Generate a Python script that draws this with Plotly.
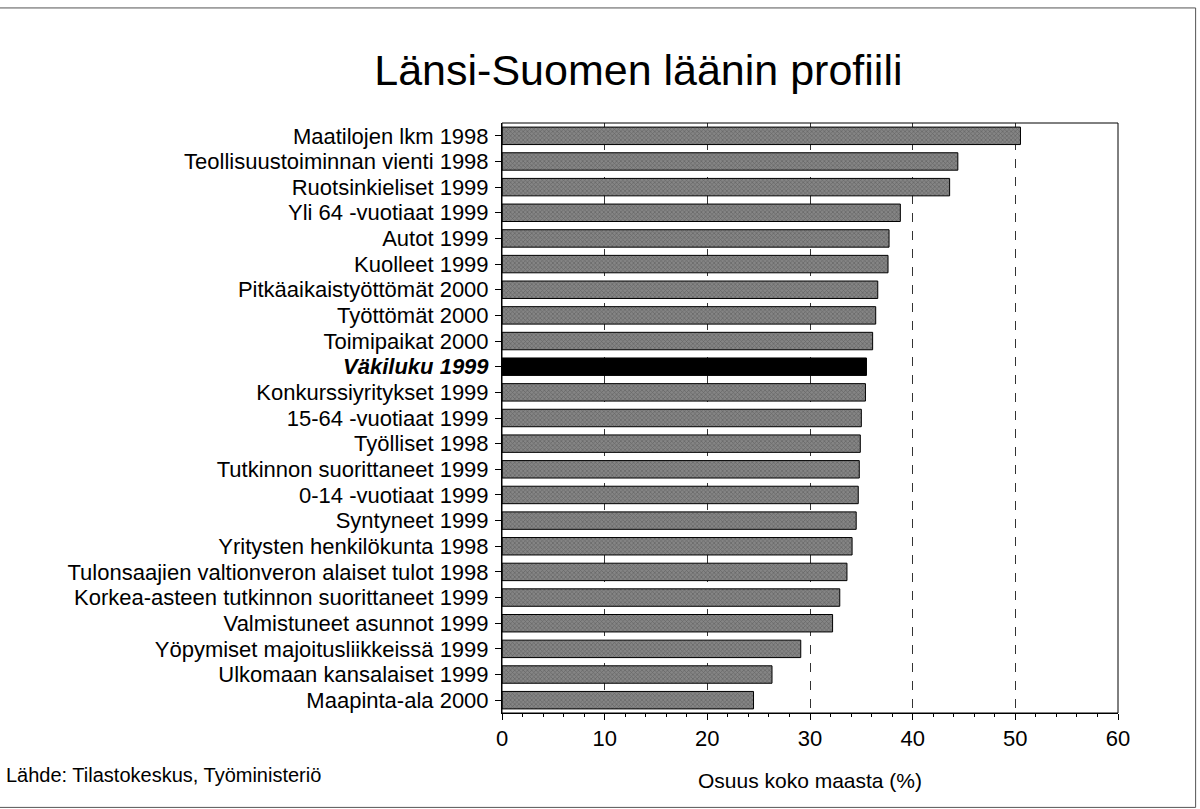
import plotly.graph_objects as go

# Share of the whole country (%), Western Finland province
categories = [
    "Maatilojen lkm 1998",
    "Teollisuustoiminnan vienti 1998",
    "Ruotsinkieliset 1999",
    "Yli 64 -vuotiaat 1999",
    "Autot 1999",
    "Kuolleet 1999",
    "Pitkäaikaistyöttömät 2000",
    "Työttömät 2000",
    "Toimipaikat 2000",
    "Väkiluku 1999",
    "Konkurssiyritykset 1999",
    "15-64 -vuotiaat 1999",
    "Työlliset 1998",
    "Tutkinnon suorittaneet 1999",
    "0-14 -vuotiaat 1999",
    "Syntyneet 1999",
    "Yritysten henkilökunta 1998",
    "Tulonsaajien valtionveron alaiset tulot 1998",
    "Korkea-asteen tutkinnon suorittaneet 1999",
    "Valmistuneet asunnot 1999",
    "Yöpymiset majoitusliikkeissä 1999",
    "Ulkomaan kansalaiset 1999",
    "Maapinta-ala 2000",
]
values = [50.5, 44.4, 43.6, 38.8, 37.7, 37.6, 36.6, 36.4, 36.1, 35.5, 35.4,
          35.0, 34.9, 34.8, 34.7, 34.5, 34.1, 33.6, 32.9, 32.2, 29.1, 26.3, 24.5]
highlight = "Väkiluku 1999"
x_ticks = [0, 10, 20, 30, 40, 50, 60]

tick_text = [f"<b><i>{c}</i></b>" if c == highlight else c for c in categories]
fill = ["#000000" if c == highlight else "#858585" for c in categories]
pattern_shape = ["" if c == highlight else "x" for c in categories]

fig = go.Figure(
    go.Bar(
        x=values,
        y=categories,
        orientation="h",
        width=0.68,
        marker=dict(
            color=fill,
            line=dict(color="#000000", width=1),
            pattern=dict(shape=pattern_shape, fgcolor="#2e2e2e", size=3, solidity=0.4),
        ),
    )
)

fig.update_layout(
    width=1200,
    height=809,
    paper_bgcolor="white",
    plot_bgcolor="white",
    font=dict(family="Liberation Sans, Arial, sans-serif", color="black"),
    margin=dict(l=502, r=82, t=123, b=96),
    showlegend=False,
    title=dict(
        text="Länsi-Suomen läänin profiili",
        x=0.532, xanchor="center", y=0.913, yanchor="middle",
        font=dict(size=43, color="black"),
    ),
    annotations=[
        dict(
            text="Lähde: Tilastokeskus, Työministeriö",
            xref="paper", yref="paper", x=-0.808, y=-0.105,
            xanchor="left", yanchor="middle", showarrow=False,
            font=dict(size=20, color="black"),
        )
    ],
    shapes=[
        dict(type="rect", xref="paper", yref="paper", x0=0, x1=1, y0=0, y1=1,
             line=dict(color="black", width=1), layer="above"),
        dict(type="rect", xref="paper", yref="paper",
             x0=-0.82, x1=1.126, y0=-0.16, y1=1.195,
             line=dict(color="#555555", width=1)),
    ],
)

fig.update_xaxes(
    range=[0, 60],
    tickvals=x_ticks,
    ticktext=[str(t) for t in x_ticks],
    tickfont=dict(size=22),
    ticks="outside",
    ticklen=6,
    tickcolor="black",
    minor=dict(dtick=2, ticks="outside", ticklen=3, tickcolor="black", showgrid=False),
    showline=True,
    linecolor="black",
    linewidth=1,
    showgrid=True,
    gridcolor="#333333",
    griddash="dash",
    gridwidth=1,
    zeroline=False,
    title=dict(text="Osuus koko maasta (%)", font=dict(size=21), standoff=22),
)

fig.update_yaxes(
    autorange="reversed",
    tickvals=categories,
    ticktext=tick_text,
    tickfont=dict(size=22),
    ticks="outside",
    ticklen=6,
    tickcolor="black",
    showline=True,
    linecolor="black",
    linewidth=1,
    showgrid=False,
    ticklabelstandoff=2,
)

fig.write_html("out.html")
